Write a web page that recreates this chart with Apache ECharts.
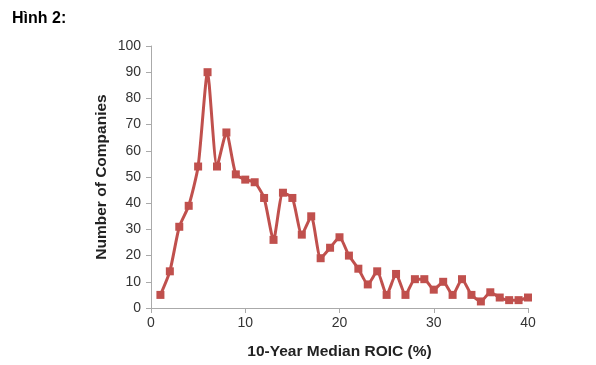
<!DOCTYPE html>
<html><head><meta charset="utf-8">
<script src="https://cdn.jsdelivr.net/npm/echarts@6/dist/echarts.min.js"></script>
<style>html,body{margin:0;padding:0;background:#fff}#c{width:596px;height:365px}</style>
</head><body><div id="c"></div>
<script>
const xValues = [1,2,3,4,5,6,7,8,9,10,11,12,13,14,15,16,17,18,19,20,21,22,23,24,25,26,27,28,29,30,31,32,33,34,35,36,37,38,39,40];
const companies = [5,14,31,39,54,90,54,67,51,49,48,42,26,44,42,28,35,19,23,27,20,15,9,14,5,13,5,11,11,7,10,5,11,5,2.5,6,4,3,3,4];
const titleText = 'Hình 2:';
const xName = '10-Year Median ROIC (%)';
const yName = 'Number of Companies';

const chart = echarts.init(document.getElementById('c'));
chart.setOption({
  animation: false,
  title: {text: titleText, left: 7, top: 6, textStyle: {fontFamily: 'Liberation Sans, Arial', fontSize: 16, fontWeight: 'bold', color: '#000'}},
  grid: {left: 151, right: 68, top: 46, bottom: 57},
  xAxis: {
    type: 'value', min: 0, max: 40, interval: 10,
    name: xName, nameLocation: 'middle', nameGap: 36, nameMoveOverlap: false,
    nameTextStyle: {fontFamily: 'Liberation Sans, Arial', fontSize: 15.5, fontWeight: 'bold', color: '#222'},
    axisLine: {lineStyle: {color: '#aaa', width: 1}},
    axisTick: {show: true, length: 5, lineStyle: {color: '#aaa'}},
    axisLabel: {fontFamily: 'Liberation Sans, Arial', fontSize: 14, color: '#333', margin: 8},
    splitLine: {show: false}
  },
  yAxis: {
    type: 'value', min: 0, max: 100, interval: 10,
    name: yName, nameLocation: 'middle', nameGap: 41, nameRotate: 90, nameMoveOverlap: false,
    nameTextStyle: {fontFamily: 'Liberation Sans, Arial', fontSize: 15.5, fontWeight: 'bold', color: '#222'},
    axisLine: {show: true, lineStyle: {color: '#aaa', width: 1}},
    axisTick: {show: true, length: 5, lineStyle: {color: '#aaa'}},
    axisLabel: {fontFamily: 'Liberation Sans, Arial', fontSize: 14, color: '#333', margin: 10},
    splitLine: {show: false}
  },
  series: [{
    type: 'line',
    data: xValues.map((x, i) => [x, companies[i]]),
    smooth: 0.2,
    symbol: 'rect', symbolSize: 8,
    lineStyle: {color: '#c0504d', width: 3},
    itemStyle: {color: '#c0504d'}
  }]
});
</script></body></html>
